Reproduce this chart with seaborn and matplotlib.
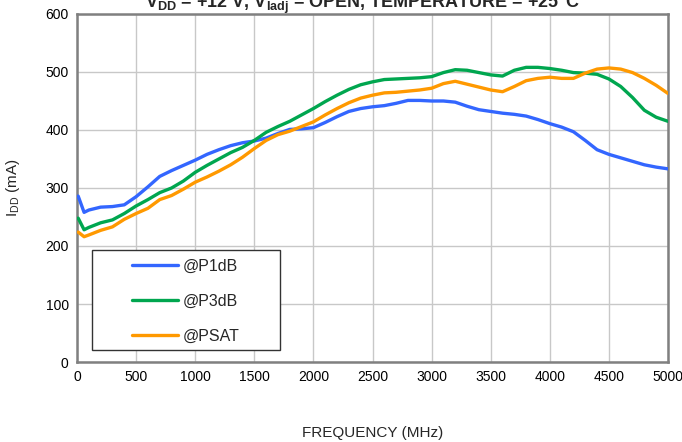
import numpy as np
import pandas as pd
import seaborn as sns
import matplotlib
matplotlib.use("Agg")
import matplotlib.pyplot as plt
from matplotlib.patches import Rectangle

# Supply current vs. frequency, VDD = +12 V, Viadj open, +25 °C
freq_mhz = [10, 60, 100, 200, 300, 400, 500, 600, 700, 800, 900, 1000,
            1100, 1200, 1300, 1400, 1500, 1600, 1700, 1800, 1900, 2000,
            2100, 2200, 2300, 2400, 2500, 2600, 2700, 2800, 2900, 3000,
            3100, 3200, 3300, 3400, 3500, 3600, 3700, 3800, 3900, 4000,
            4100, 4200, 4300, 4400, 4500, 4600, 4700, 4800, 4900, 5000]

idd_p1db = [286, 258, 262, 267, 268, 271, 285, 302, 320, 330, 339, 348,
            358, 366, 373, 378, 381, 386, 394, 401, 402, 404,
            413, 423, 432, 437, 440, 442, 446, 451, 451, 450,
            450, 448, 441, 435, 432, 429, 427, 424, 418, 411,
            405, 397, 382, 366, 358, 352, 346, 340, 336, 333]

idd_p3db = [248, 228, 232, 240, 245, 256, 269, 280, 292, 300, 312, 327,
            339, 350, 361, 370, 382, 396, 406, 415, 426, 437,
            449, 460, 470, 478, 483, 487, 488, 489, 490, 492,
            499, 504, 503, 499, 495, 493, 503, 508, 508, 506,
            503, 499, 498, 496, 488, 475, 456, 434, 422, 415]

idd_psat = [224, 216, 219, 227, 233, 246, 256, 265, 280, 287, 298, 310,
            319, 329, 340, 353, 368, 382, 392, 398, 406, 414,
            426, 437, 447, 455, 460, 464, 465, 467, 469, 472,
            480, 484, 479, 474, 469, 466, 475, 485, 489, 491,
            489, 489, 498, 505, 507, 505, 499, 489, 477, 463]

series_names = ["@P1dB", "@P3dB", "@PSAT"]
series_colors = ["#3366FF", "#00A64F", "#FF9900"]

x_ticks = list(range(0, 5001, 500))
y_ticks = list(range(0, 601, 100))

df = pd.concat([
    pd.DataFrame({"freq": freq_mhz, "idd": vals, "cond": name})
    for name, vals in zip(series_names, [idd_p1db, idd_p3db, idd_psat])
])

sns.set_theme(style="white")
plt.rcParams["font.family"] = ["Liberation Sans", "DejaVu Sans"]
plt.rcParams["mathtext.fontset"] = "custom"
plt.rcParams["mathtext.rm"] = "Liberation Sans"
plt.rcParams["mathtext.bf"] = "Liberation Sans:bold"
plt.rcParams["mathtext.default"] = "regular"

fig = plt.figure(figsize=(6.82, 4.42), dpi=100)
ax = fig.add_axes([77 / 682, 1 - 362 / 442, 591 / 682, 348 / 442])

sns.lineplot(data=df, x="freq", y="idd", hue="cond",
             palette=dict(zip(series_names, series_colors)),
             linewidth=2.4, ax=ax, legend=False, zorder=3)

ax.set_xlim(0, 5000)
ax.set_ylim(0, 600)
ax.set_xticks(x_ticks)
ax.set_yticks(y_ticks)
ax.tick_params(axis="both", length=0, labelsize=10, colors="black", pad=6)
ax.grid(True, color="#C8C8C8", linewidth=1.0)
ax.set_axisbelow(True)
for sp in ax.spines.values():
    sp.set_color("#808080")
    sp.set_linewidth(1.8)

ax.set_xlabel("FREQUENCY (MHz)", fontsize=11, labelpad=30)
ax.set_ylabel("I$_{DD}$ (mA)", fontsize=11, labelpad=17)

# legend box
ax.add_patch(Rectangle((15 / 591, 12 / 348), 188 / 591, 100 / 348,
                       transform=ax.transAxes, facecolor="white",
                       edgecolor="#333333", linewidth=1.0, zorder=4))
handles = [plt.Line2D([], [], color=c, linewidth=2.4) for c in series_colors]
ax.legend(handles, series_names, loc="upper left",
          bbox_to_anchor=((132 - 77) / 591, (362 - 259) / 348),
          frameon=False, borderpad=0, borderaxespad=0, fontsize=11.5,
          handlelength=2.9, handletextpad=0.3, labelspacing=1.25).set_zorder(5)

fig.text(362 / 682, 1 - 8.5 / 442,
         r"V$_{\mathbf{DD}}$ = +12 V, V$_{\mathbf{Iadj}}$ = OPEN, TEMPERATURE = +25°C",
         ha="center", va="baseline", fontsize=13, fontweight="bold")

fig.savefig("out.png", dpi=100)
